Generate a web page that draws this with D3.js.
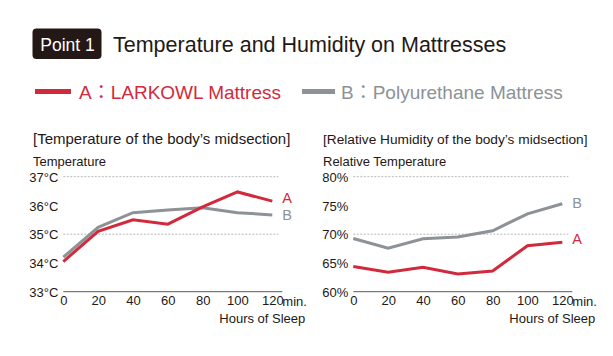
<!DOCTYPE html>
<html>
<head>
<meta charset="utf-8">
<script src="https://cdn.jsdelivr.net/npm/d3@7"></script>
<style>
  html, body { margin: 0; padding: 0; background: #fff; }
  svg { display: block; }
  text { font-family: "Liberation Sans", Arial, "Noto Sans CJK JP", sans-serif; fill: #231815; }
</style>
</head>
<body>
<svg id="chart" width="613" height="356"></svg>
<script>
// ---------- DATA ----------
const minutes = [0, 20, 40, 60, 80, 100, 120];
const tempA = [34.05, 35.1, 35.5, 35.35, 35.95, 36.47, 36.15];
const tempB = [34.2, 35.24, 35.75, 35.84, 35.92, 35.75, 35.67];
const humA = [64.4, 63.4, 64.25, 63.1, 63.6, 68.0, 68.6];
const humB = [69.25, 67.55, 69.2, 69.5, 70.6, 73.55, 75.3];
const tempTicks = [33, 34, 35, 36, 37];
const tempGrid = [35, 37];
const humTicks = [60, 65, 70, 75, 80];
const humGrid = [70, 80];
const seriesNames = ["A：LARKOWL Mattress", "B：Polyurethane Mattress"];
const seriesKeys = ["A", "B"];
const titleText = "Temperature and Humidity on Mattresses";
const badgeText = "Point 1";

const RED = "#d12a3c";
const GRAY = "#8c9295";

const svg = d3.select("#chart");

// ---------- Header ----------
const badge = svg.append("g");
badge.append("rect").attr("x", 32.5).attr("y", 28.5).attr("width", 69).attr("height", 30.5)
  .attr("rx", 4).attr("fill", "#231815");
badge.append("text").attr("x", 67.5).attr("y", 51).attr("text-anchor", "middle")
  .style("fill", "#fff").style("font-size", "17.5px").text(badgeText);

svg.append("text").attr("x", 113).attr("y", 52).style("font-size", "21.5px").text(titleText);

// ---------- Legend ----------
const legend = [
  { name: seriesNames[0], color: RED, x: 35, w: 36, tx: 79 },
  { name: seriesNames[1], color: GRAY, x: 302, w: 33, tx: 341 }
];
legend.forEach(l => {
  svg.append("rect").attr("x", l.x).attr("y", 89).attr("width", l.w).attr("height", 5).attr("fill", l.color);
  svg.append("text").attr("x", l.tx).attr("y", 98.5).style("font-size", "19px").style("fill", l.color).text(l.name);
});

// ---------- Panels ----------
function panel(opts) {
  const g = svg.append("g");
  const x = d3.scaleLinear().domain([0, 120]).range([opts.x0, opts.x0 + 209]);
  const y = d3.scaleLinear().domain(opts.domain).range([291.7, 176.7]);

  g.append("text").attr("x", opts.tx).attr("y", 144).style("font-size", opts.titleSize).text(opts.title);
  g.append("text").attr("x", opts.tx).attr("y", 166).style("font-size", "13px").text(opts.ylabel);

  // dashed grid
  g.selectAll(".grid").data(opts.grid).enter().append("line")
    .attr("x1", x(0)).attr("x2", x(120) + 6)
    .attr("y1", d => y(d)).attr("y2", d => y(d))
    .attr("stroke", "#a5a5a5").attr("stroke-width", 0.8).attr("stroke-dasharray", "2,1.5");

  // baseline
  g.append("line").attr("x1", x(0)).attr("x2", x(120) + 10)
    .attr("y1", y(opts.domain[0])).attr("y2", y(opts.domain[0]))
    .attr("stroke", "#5a5a5a").attr("stroke-width", 1);

  // y axis labels
  const ya = g.append("g").attr("transform", `translate(${x(0) - 5},0)`)
    .call(d3.axisLeft(y).tickValues(opts.ticks).tickSize(0).tickPadding(0).tickFormat(opts.fmt));
  ya.select(".domain").remove();
  ya.selectAll("text").style("font-size", "13px").attr("font-family", null).attr("fill", null).attr("dy", "0.36em");

  // x axis labels
  const xa = g.append("g").attr("transform", `translate(0,${y(opts.domain[0])})`)
    .call(d3.axisBottom(x).tickValues(minutes).tickSize(0).tickPadding(4));
  xa.select(".domain").remove();
  xa.selectAll("text").style("font-size", "13px").attr("font-family", null).attr("fill", null);

  g.append("text").attr("x", x(120) + 10).attr("y", 305.5).style("font-size", "13px").text("min.");
  g.append("text").attr("x", x(120) + 33).attr("y", 323).attr("text-anchor", "end")
    .style("font-size", "13px").text("Hours of Sleep");

  const line = d3.line().x((d, i) => x(minutes[i])).y(d => y(d));
  [{ v: opts.b, c: GRAY, k: seriesKeys[1], dy: opts.dyB }, { v: opts.a, c: RED, k: seriesKeys[0], dy: opts.dyA }].forEach(s => {
    g.append("path").datum(s.v).attr("d", line).attr("fill", "none")
      .attr("stroke", s.c).attr("stroke-width", 3).attr("stroke-linejoin", "miter");
    g.append("text").attr("x", x(120) + 10).attr("y", y(s.v[s.v.length - 1]) + s.dy)
      .style("font-size", "14.5px").style("fill", s.c).text(s.k);
  });
}

panel({ x0: 63.3, tx: 33, domain: [33, 37], ticks: tempTicks, grid: tempGrid,
  fmt: d => d + "°C", a: tempA, b: tempB, dyA: 1.5, dyB: 5, titleSize: "15px",
  title: "[Temperature of the body’s midsection]", ylabel: "Temperature" });
panel({ x0: 353.3, tx: 323, domain: [60, 80], ticks: humTicks, grid: humGrid,
  fmt: d => d + "%", a: humA, b: humB, dyA: 2, dyB: 4, titleSize: "13.7px",
  title: "[Relative Humidity of the body’s midsection]", ylabel: "Relative Temperature" });
</script>
</body>
</html>
